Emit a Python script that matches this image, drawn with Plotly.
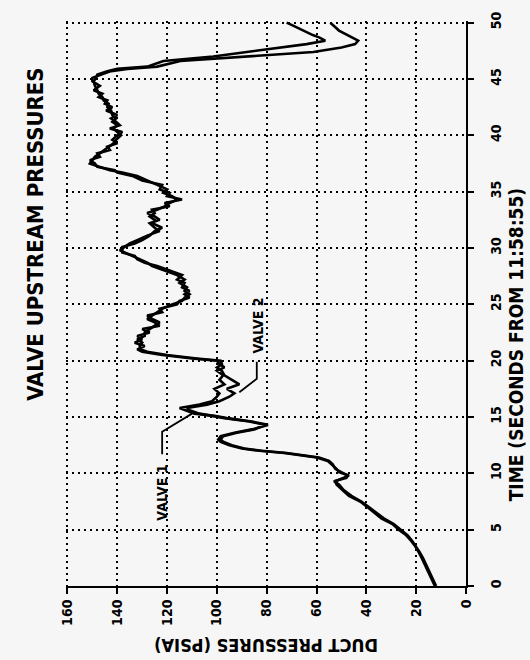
import plotly.graph_objects as go

# ---- data (time in s, duct pressure in psia) ----
TIME = [0.0, 0.5, 1.0, 1.5, 2.0, 2.5, 3.0, 3.5, 4.0, 4.5, 5.0, 5.5, 6.0, 6.5, 7.0, 7.5,
        8.0, 8.5, 9.0, 9.3, 9.6, 9.8, 10.1, 10.4, 10.8, 11.1, 11.4, 11.6, 11.8, 12.0,
        12.2, 12.5, 12.8, 13.0, 13.3, 13.6, 13.9, 14.3, 14.6, 14.9, 15.1, 15.3, 15.6,
        15.8, 16.1, 16.4, 16.8, 17.1, 17.5, 17.9, 18.3, 18.7, 19.1, 19.4, 19.7, 20.0,
        20.2, 20.5, 20.8, 21.0, 21.3, 21.6, 21.9, 22.2, 22.5, 22.8, 23.1, 23.4, 23.7,
        24.0, 24.3, 24.6, 25.0, 25.3, 25.6, 25.9, 26.2, 26.5, 26.9, 27.2, 27.6, 28.0,
        28.4, 28.7, 29.0, 29.3, 29.6, 29.8, 30.1, 30.4, 30.7, 31.1, 31.5, 31.8, 32.2,
        32.5, 32.8, 33.1, 33.4, 33.7, 34.0, 34.3, 34.6, 34.9, 35.2, 35.6, 36.0, 36.4,
        36.7, 36.9, 37.2, 37.5, 37.8, 38.1, 38.4, 38.7, 39.0, 39.3, 39.6, 40.0, 40.3,
        40.6, 40.9, 41.2, 41.5, 41.8, 42.2, 42.5, 42.8, 43.1, 43.4, 43.7, 44.0, 44.4,
        44.8, 45.1, 45.4, 45.7, 45.9, 46.1, 46.6, 47.0, 47.4, 47.8, 48.1, 48.4, 48.7,
        48.9, 49.3, 49.7, 50.0]

VALVE_1 = [12.5, 13.5, 14.5, 15.5, 16.5, 17.8, 19.0, 20.3, 22.0, 24.0, 27.0, 29.5, 34.0,
           37.0, 39.5, 42.5, 47.0, 49.5, 52.0, 52.5, 49.0, 47.0, 51.0, 52.0, 54.0, 55.5,
           60.0, 67.0, 73.0, 83.0, 90.0, 95.0, 98.5, 99.5, 98.5, 93.0, 86.0, 79.5, 86.0,
           96.0, 101.0, 109.0, 113.0, 115.0, 107.0, 102.0, 100.0, 99.0, 101.0, 97.0, 99.0,
           97.5, 100.0, 97.0, 99.0, 100.0, 110.0, 122.0, 130.0, 132.0, 129.0, 133.0, 130.0,
           132.0, 127.0, 130.0, 123.0, 125.0, 128.0, 126.0, 124.0, 122.0, 118.0, 114.0,
           113.0, 111.0, 113.0, 112.0, 115.0, 113.0, 116.0, 121.0, 126.0, 128.0, 131.0,
           134.5, 137.0, 139.0, 137.0, 135.0, 132.0, 128.0, 123.0, 125.0, 127.0, 123.0,
           125.0, 128.0, 124.0, 121.0, 119.0, 116.0, 118.0, 121.5, 120.0, 124.0, 128.0,
           132.0, 138.0, 143.0, 147.0, 151.0, 150.0, 149.0, 147.0, 145.0, 143.0, 141.5,
           140.5, 138.5, 140.0, 141.5, 140.0, 142.0, 140.5, 142.0, 142.5, 144.0, 143.5,
           145.5, 146.0, 147.5, 148.0, 149.0, 149.5, 148.5, 148.0, 144.0, 140.0, 128.0,
           121.5, 101.5, 88.0, 74.5, 64.0, 56.5, 59.0, 61.5, 65.0, 69.0, 72.0]

VALVE_2 = [12.0, 13.0, 14.0, 15.0, 16.2, 17.3, 18.6, 20.0, 21.6, 23.4, 26.0, 29.0, 33.0,
           36.2, 39.0, 42.0, 46.0, 49.0, 51.0, 53.0, 48.0, 47.5, 50.0, 52.5, 53.5, 55.0,
           59.0, 66.0, 72.0, 82.0, 89.0, 94.0, 97.5, 98.5, 97.5, 92.0, 85.0, 80.5, 87.0,
           97.0, 103.0, 107.0, 111.0, 112.0, 104.0, 99.0, 95.0, 93.0, 96.0, 91.0, 94.0,
           97.0, 98.0, 100.0, 98.0, 98.5, 108.0, 120.0, 128.0, 130.5, 131.0, 130.0, 132.0,
           129.0, 129.0, 127.0, 125.0, 123.0, 126.0, 128.0, 122.0, 123.0, 116.0, 115.0,
           111.0, 113.0, 111.0, 114.0, 113.0, 116.0, 114.0, 119.0, 124.0, 129.0, 132.0,
           133.0, 138.0, 138.0, 138.0, 133.0, 130.0, 127.0, 125.0, 122.0, 126.0, 125.0,
           127.0, 125.0, 126.0, 119.0, 121.0, 114.0, 120.0, 119.0, 123.0, 122.0, 130.0,
           134.0, 140.0, 141.0, 148.0, 149.0, 151.0, 147.0, 148.0, 143.0, 144.0, 140.0,
           142.0, 140.0, 138.0, 143.0, 139.0, 140.5, 142.5, 140.0, 144.5, 142.0, 145.0,
           144.0, 147.5, 146.0, 149.5, 147.0, 150.0, 150.0, 146.5, 142.5, 136.0, 124.0,
           114.7, 88.0, 61.3, 50.0, 44.5, 43.3, 46.0, 47.7, 51.0, 53.0, 54.5]

P_TICKS = [160, 140, 120, 100, 80, 60, 40, 20, 0]
T_TICKS = [0, 5, 10, 15, 20, 25, 30, 35, 40, 45, 50]

# label leader lines (pressure, time) and label anchor points
VALVE1_LEADER_P = [110.0, 122.0, 122.0]
VALVE1_LEADER_T = [15.3, 13.7, 11.7]
VALVE2_LEADER_P = [91.0, 84.0, 84.0]
VALVE2_LEADER_T = [17.2, 18.4, 19.9]
LABELS = [("VALVE 1", 122.0, 8.3), ("VALVE 2", 83.6, 23.1)]

TITLE = "VALVE UPSTREAM PRESSURES"
X_TITLE = "DUCT PRESSURES (PSIA)"
Y_TITLE = "TIME (SECONDS FROM 11:58:55)"

FONT = "DejaVu Sans Condensed, DejaVu Sans, sans-serif"
BG = "#f6f6f6"


def f(size):
    return dict(family=FONT, size=size, color="black", weight="bold")


fig = go.Figure()
for vals in (VALVE_1, VALVE_2):
    fig.add_trace(go.Scatter(x=vals, y=TIME, mode="lines",
                             line=dict(color="black", width=2.6),
                             showlegend=False, hoverinfo="skip"))
for lp, lt in ((VALVE1_LEADER_P, VALVE1_LEADER_T), (VALVE2_LEADER_P, VALVE2_LEADER_T)):
    fig.add_trace(go.Scatter(x=lp, y=lt, mode="lines",
                             line=dict(color="black", width=1.8),
                             showlegend=False, hoverinfo="skip"))

for txt, p, t in LABELS:
    fig.add_annotation(x=p, y=t, text=txt, showarrow=False, textangle=-90,
                       xanchor="center", yanchor="middle", font=f(14))

fig.add_annotation(xref="paper", yref="paper", x=-0.078, y=0.623, text=TITLE,
                   showarrow=False, textangle=-90, xanchor="center", yanchor="middle",
                   font=f(22))
fig.add_annotation(xref="paper", yref="paper", x=0.5, y=-0.104, text=X_TITLE,
                   showarrow=False, textangle=180, xanchor="center", yanchor="middle",
                   font=f(18))
fig.add_annotation(xref="paper", yref="paper", x=1.125, y=0.426, text=Y_TITLE,
                   showarrow=False, textangle=-90, xanchor="center", yanchor="middle",
                   font=f(19))

fig.update_layout(
    width=530, height=660,
    margin=dict(l=66, r=64, t=17, b=74),
    paper_bgcolor=BG, plot_bgcolor=BG,
    xaxis=dict(range=[160.6, 0], tickvals=P_TICKS, ticktext=[str(v) for v in P_TICKS],
               tickangle=-90, showgrid=True, gridcolor="black", gridwidth=2,
               griddash="2px,4px", zeroline=False, showline=True, linecolor="black",
               linewidth=2, ticks="outside", ticklen=6, tickwidth=2, tickcolor="black",
               tickfont=f(14)),
    yaxis=dict(range=[0, 50.15], tickvals=T_TICKS, side="right",
               tickangle=-90, showgrid=True, gridcolor="black", gridwidth=2,
               griddash="2px,4px", zeroline=False, showline=True, linecolor="black",
               linewidth=2, ticks="outside", ticklen=6, tickwidth=2, tickcolor="black",
               ticklabelstandoff=10, tickfont=f(14)),
)

fig.write_html("out.html")
